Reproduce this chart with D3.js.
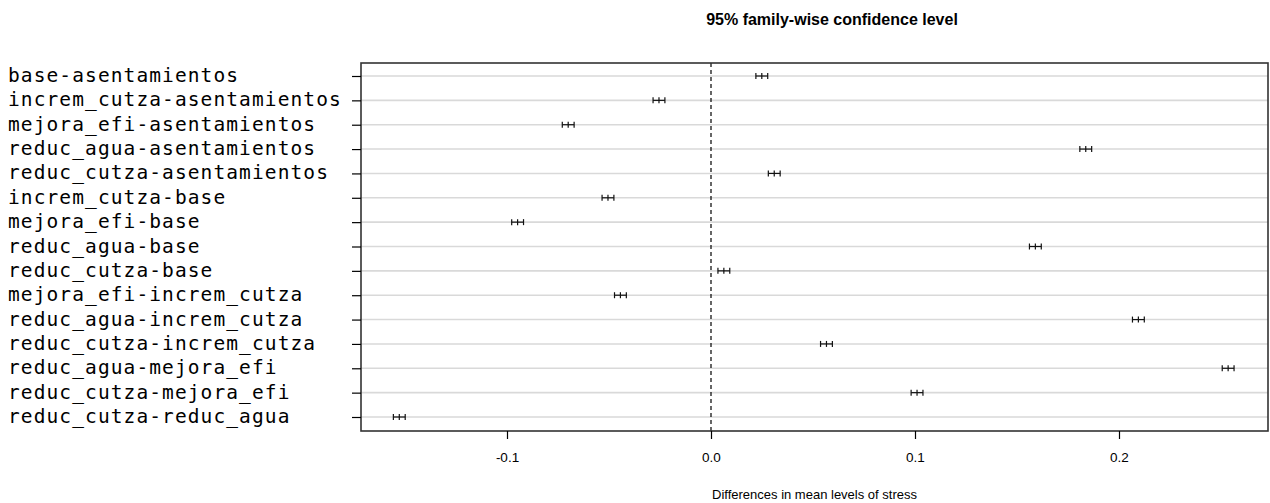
<!DOCTYPE html>
<html>
<head>
<meta charset="utf-8">
<script src="https://cdn.jsdelivr.net/npm/d3@7"></script>
<style>
  body { margin: 0; background: #fff; }
  svg { display: block; }
</style>
</head>
<body>
<script>
// Tukey HSD comparisons, top to bottom
let comparisons = [
    "base-asentamientos",
    "increm_cutza-asentamientos",
    "mejora_efi-asentamientos",
    "reduc_agua-asentamientos",
    "reduc_cutza-asentamientos",
    "increm_cutza-base",
    "mejora_efi-base",
    "reduc_agua-base",
    "reduc_cutza-base",
    "mejora_efi-increm_cutza",
    "reduc_agua-increm_cutza",
    "reduc_cutza-increm_cutza",
    "reduc_agua-mejora_efi",
    "reduc_cutza-mejora_efi",
    "reduc_cutza-reduc_agua"
];
let diffs = [0.0249, -0.0255, -0.0700, 0.1837, 0.0310, -0.0505, -0.0948, 0.1590,
    0.0063, -0.0444, 0.2095, 0.0566, 0.2535, 0.1010, -0.1528];
let lwr = [0.0220, -0.0284, -0.0729, 0.1808, 0.0281, -0.0534, -0.0977, 0.1561,
    0.0034, -0.0473, 0.2066, 0.0537, 0.2506, 0.0981, -0.1557];
let upr = [0.0278, -0.0226, -0.0671, 0.1866, 0.0339, -0.0476, -0.0919, 0.1619,
    0.0092, -0.0415, 0.2124, 0.0595, 0.2564, 0.1039, -0.1499];
let xTicks = [-0.1, 0.0, 0.1, 0.2];

let width = 1270, height = 503;
let boxL = 361, boxR = 1268, boxT = 63, boxB = 431;

let svg = d3.select('body').append('svg')
    .attr('width', width)
    .attr('height', height);

let x = d3.scaleLinear()
    .domain([-0.1, 0.1])
    .range([507, 915]);

let y = d3.scalePoint()
    .domain(comparisons)
    .range([76, 417]);

// light grid lines at every comparison
svg.append('g').selectAll('line').data(comparisons).enter().append('line')
    .attr('x1', boxL).attr('x2', boxR)
    .attr('y1', d => y(d)).attr('y2', d => y(d))
    .attr('stroke', '#d9d9d9').attr('stroke-width', 1.6);

// zero line
svg.append('line')
    .attr('x1', x(0)).attr('x2', x(0))
    .attr('y1', boxT).attr('y2', boxB)
    .attr('stroke', '#000').attr('stroke-width', 1.2)
    .attr('stroke-dasharray', '4,3');

// intervals
let ci = svg.append('g').selectAll('g').data(comparisons).enter().append('g')
    .attr('stroke', '#111').attr('stroke-width', 1.2);

ci.append('line')
    .attr('x1', (d, i) => x(lwr[i])).attr('x2', (d, i) => x(upr[i]))
    .attr('y1', d => y(d)).attr('y2', d => y(d));
[lwr, diffs, upr].forEach(arr => {
    ci.append('line')
        .attr('x1', (d, i) => x(arr[i])).attr('x2', (d, i) => x(arr[i]))
        .attr('y1', d => y(d) - 3).attr('y2', d => y(d) + 3);
});

// box
svg.append('rect')
    .attr('x', boxL).attr('y', boxT)
    .attr('width', boxR - boxL).attr('height', boxB - boxT)
    .attr('fill', 'none').attr('stroke', '#333').attr('stroke-width', 1.6);

// x axis
let fmt = d3.formatLocale({decimal: '.', thousands: ',', grouping: [3], currency: ['', ''], minus: '-'}).format('.1f');
let xAxis = svg.append('g')
    .attr('transform', `translate(0,${boxB})`)
    .call(d3.axisBottom(x).tickValues(xTicks).tickFormat(fmt).tickSize(8).tickPadding(13));
xAxis.select('.domain').remove();
xAxis.selectAll('line').attr('stroke', '#000').attr('stroke-width', 1.2);
xAxis.selectAll('text')
    .attr('font-family', 'Liberation Sans, Arial, sans-serif')
    .attr('font-size', '13.5px')
    .attr('fill', '#000');

// y ticks and labels
let yAxis = svg.append('g')
    .attr('transform', `translate(${boxL},0)`)
    .call(d3.axisLeft(y).tickSize(9).tickFormat(''));
yAxis.select('.domain').remove();
yAxis.selectAll('line').attr('stroke', '#000').attr('stroke-width', 1.2);

svg.append('g').selectAll('text').data(comparisons).enter().append('text')
    .attr('x', 8)
    .attr('y', d => y(d) + 6)
    .attr('font-family', 'DejaVu Sans Mono, monospace')
    .attr('font-size', '19.5px')
    .attr('letter-spacing', '1.1px')
    .attr('fill', '#000')
    .text(d => d);

// title and axis label
svg.append('text')
    .attr('x', 832).attr('y', 25)
    .attr('text-anchor', 'middle')
    .attr('font-family', 'Liberation Sans, Arial, sans-serif')
    .attr('font-size', '16px').attr('font-weight', 'bold')
    .text('95% family-wise confidence level');

svg.append('text')
    .attr('x', (boxL + boxR) / 2).attr('y', 499)
    .attr('text-anchor', 'middle')
    .attr('font-family', 'Liberation Sans, Arial, sans-serif')
    .attr('font-size', '13px')
    .text('Differences in mean levels of stress');
</script>
</body>
</html>
